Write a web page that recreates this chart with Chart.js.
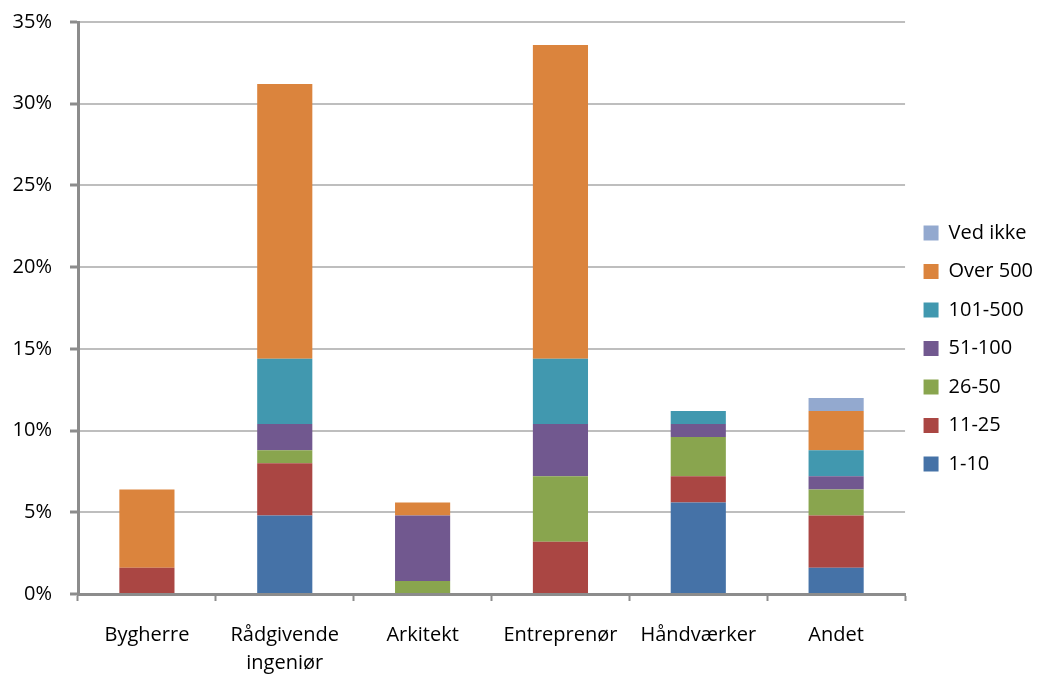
<!DOCTYPE html>
<html>
<head>
<meta charset="utf-8">
<script src="https://cdn.jsdelivr.net/npm/chart.js@4/dist/chart.umd.min.js"></script>
<style>
  html, body { margin: 0; padding: 0; background: #ffffff; }
  #wrap { width: 1043px; height: 675px; }
</style>
</head>
<body>
<div id="wrap"><canvas id="c" width="1043" height="675"></canvas></div>
<script>
// Respondent categories along the x axis
const categories = ['Bygherre', ['Rådgivende', 'ingeniør'], 'Arkitekt', 'Entreprenør', 'Håndværker', 'Andet'];

// Share of respondents (%) per company size group
const size1to10    = [0.0, 4.8, 0.0, 0.0, 5.6, 1.6];
const size11to25   = [1.6, 3.2, 0.0, 3.2, 1.6, 3.2];
const size26to50   = [0.0, 0.8, 0.8, 4.0, 2.4, 1.6];
const size51to100  = [0.0, 1.6, 4.0, 3.2, 0.8, 0.8];
const size101to500 = [0.0, 4.0, 0.0, 4.0, 0.8, 1.6];
const sizeOver500  = [4.8, 16.8, 0.8, 19.2, 0.0, 2.4];
const sizeUnknown  = [0.0, 0.0, 0.0, 0.0, 0.0, 0.8];

const seriesNames = ['1-10', '11-25', '26-50', '51-100', '101-500', 'Over 500', 'Ved ikke'];
const seriesValues = [size1to10, size11to25, size26to50, size51to100, size101to500, sizeOver500, sizeUnknown];
const seriesColors = ['#4572a7', '#aa4643', '#89a54e', '#71588f', '#4198af', '#db843d', '#93a9cf'];

// Y axis: 0 % – 35 % in steps of 5
const yMax = 35;
const yStep = 5;

const FONT = '"Open Sans", "Liberation Sans", sans-serif';
const AXIS_GREY = '#8c8c8c';

const datasets = seriesNames.map((name, i) => ({
  label: name,
  data: seriesValues[i],
  backgroundColor: seriesColors[i],
  borderWidth: 0,
  barPercentage: 0.4,
  categoryPercentage: 1.0
}));

new Chart(document.getElementById('c'), {
  type: 'bar',
  data: { labels: categories, datasets },
  options: {
    responsive: false,
    animation: false,
    layout: { padding: { left: 13, top: 22, right: 0, bottom: 0 } },
    plugins: {
      tooltip: { enabled: false },
      legend: {
        position: 'right',
        reverse: true,
        labels: {
          font: { family: FONT, size: 20 },
          color: '#000000',
          boxWidth: 15,
          boxHeight: 15,
          padding: 18.5
        }
      }
    },
    scales: {
      x: {
        stacked: true,
        offset: true,
        afterFit: scale => { scale.height = 81; },
        grid: {
          offset: true,
          drawOnChartArea: false,
          drawTicks: true,
          tickLength: 7,
          tickColor: AXIS_GREY,
          tickWidth: 2
        },
        border: { color: AXIS_GREY, width: 3 },
        ticks: {
          font: { family: FONT, size: 20, lineHeight: 1.4 },
          color: '#000000',
          padding: 20,
          maxRotation: 0,
          autoSkip: false
        }
      },
      y: {
        stacked: true,
        min: 0,
        max: yMax,
        // fixed axis width; the outer layout padding sets the top edge
        afterFit: scale => {
          scale.width = 65;
          scale.paddingTop = 0;
          scale.paddingBottom = 0;
        },
        grid: {
          color: '#bebebe',
          lineWidth: 2,
          tickLength: 8,
          tickColor: AXIS_GREY,
          tickWidth: 3
        },
        border: { color: AXIS_GREY, width: 3 },
        ticks: {
          stepSize: yStep,
          font: { family: FONT, size: 20 },
          color: '#000000',
          padding: 18,
          callback: v => v + '%'
        }
      }
    }
  }
});
</script>
</body>
</html>
